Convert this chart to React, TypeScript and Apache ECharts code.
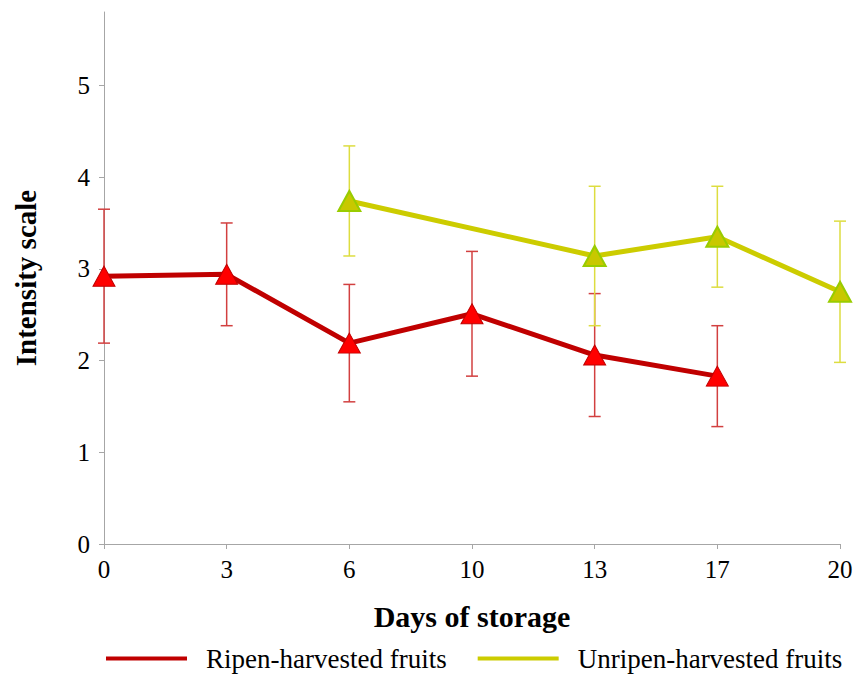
import React, { useEffect, useRef } from "react";
import * as echarts from "echarts";

// Storage days (evenly spaced categories)
const days = ["0", "3", "6", "10", "13", "17", "20"];

// Ripen-harvested fruits: mean intensity and standard deviation
const ripenMean = [2.92, 2.94, 2.19, 2.51, 2.06, 1.83, null];
const ripenErr = [0.73, 0.56, 0.64, 0.68, 0.67, 0.55, null];

// Unripen-harvested fruits: mean intensity and standard deviation
const unripenMean = [null, null, 3.74, null, 3.14, 3.35, 2.75];
const unripenErr = [null, null, 0.6, null, 0.76, 0.55, 0.77];

const yTicks = [0, 1, 2, 3, 4, 5];

const FONT = '"Liberation Serif", "Times New Roman", serif';

type Num = number | null;

function errorData(mean: Num[], err: Num[]) {
  const out: number[][] = [];
  mean.forEach((m, i) => {
    const e = err[i];
    if (m != null && e != null) out.push([i, m - e, m + e]);
  });
  return out;
}

function errorSeries(mean: Num[], err: Num[], color: string) {
  return {
    type: "custom",
    silent: true,
    z: 1,
    data: errorData(mean, err),
    renderItem: (_p: any, api: any) => {
      const x = api.value(0);
      const lo = api.coord([x, api.value(1)]);
      const hi = api.coord([x, api.value(2)]);
      const cap = 6;
      const style = { stroke: color, lineWidth: 1.5 };
      return {
        type: "group",
        children: [
          { type: "line", shape: { x1: lo[0], y1: lo[1], x2: hi[0], y2: hi[1] }, style },
          { type: "line", shape: { x1: hi[0] - cap, y1: hi[1], x2: hi[0] + cap, y2: hi[1] }, style },
          { type: "line", shape: { x1: lo[0] - cap, y1: lo[1], x2: lo[0] + cap, y2: lo[1] }, style },
        ],
      };
    },
  };
}

export default function App() {
  const ref = useRef<HTMLDivElement>(null);

  useEffect(() => {
    document.body.style.margin = "0";
    if (!ref.current) return;
    const chart = echarts.init(ref.current, null, { renderer: "svg" });
    chart.setOption({
      animation: false,
      backgroundColor: "#ffffff",
      grid: { left: 104, right: 17, top: 12, bottom: 131 },
      legend: {
        bottom: -2,
        left: 101,
        width: 800,
        itemWidth: 81,
        itemHeight: 4,
        itemGap: 31,
        icon: "rect",
        textStyle: {
          fontFamily: FONT,
          fontSize: 27,
          color: "#000",
          padding: [0, 0, 0, 14],
        },
        data: [
          { name: "Ripen-harvested fruits", itemStyle: { color: "#C00000", borderWidth: 0 } },
          { name: "Unripen-harvested fruits", itemStyle: { color: "#CCCC00", borderWidth: 0 } },
        ],
      },
      xAxis: {
        type: "category",
        data: days,
        boundaryGap: false,
        name: "Days of storage",
        nameLocation: "middle",
        nameGap: 57,
        nameTextStyle: { fontFamily: FONT, fontSize: 30, fontWeight: "bold", color: "#000" },
        axisLine: { lineStyle: { color: "#A6A6A6", width: 1 } },
        axisTick: { length: 5, lineStyle: { color: "#A6A6A6" } },
        axisLabel: { fontFamily: FONT, fontSize: 25, color: "#000", margin: 13 },
        splitLine: { show: false },
      },
      yAxis: {
        type: "value",
        min: 0,
        max: 5.8,
        interval: 1,
        name: "Intensity scale",
        nameLocation: "middle",
        nameGap: 64,
        nameTextStyle: { fontFamily: FONT, fontSize: 29, fontWeight: "bold", color: "#000" },
        axisLine: { show: true, lineStyle: { color: "#A6A6A6", width: 1 } },
        axisTick: { show: true, length: 5, customValues: yTicks, lineStyle: { color: "#A6A6A6" } },
        axisLabel: { fontFamily: FONT, fontSize: 25, color: "#000", margin: 14, customValues: yTicks },
        splitLine: { show: false },
      },
      series: [
        errorSeries(ripenMean, ripenErr, "#D24040"),
        errorSeries(unripenMean, unripenErr, "#DDDD40"),
        {
          name: "Ripen-harvested fruits",
          type: "line",
          z: 3,
          data: ripenMean,
          symbol: "triangle",
          symbolSize: [22, 20],
          lineStyle: { color: "#C00000", width: 5 },
          itemStyle: { color: "#FF0000", borderColor: "#C00000", borderWidth: 1 },
        },
        {
          name: "Unripen-harvested fruits",
          type: "line",
          z: 3,
          connectNulls: true,
          data: unripenMean,
          symbol: "triangle",
          symbolSize: [22, 20],
          lineStyle: { color: "#CCCC00", width: 5 },
          itemStyle: { color: "#C8C800", borderColor: "#99CC00", borderWidth: 2 },
        },
      ],
    });
    return () => chart.dispose();
  }, []);

  return (
    <div
      ref={ref}
      style={{ position: "absolute", left: 0, top: 0, width: 857, height: 675 }}
    />
  );
}
